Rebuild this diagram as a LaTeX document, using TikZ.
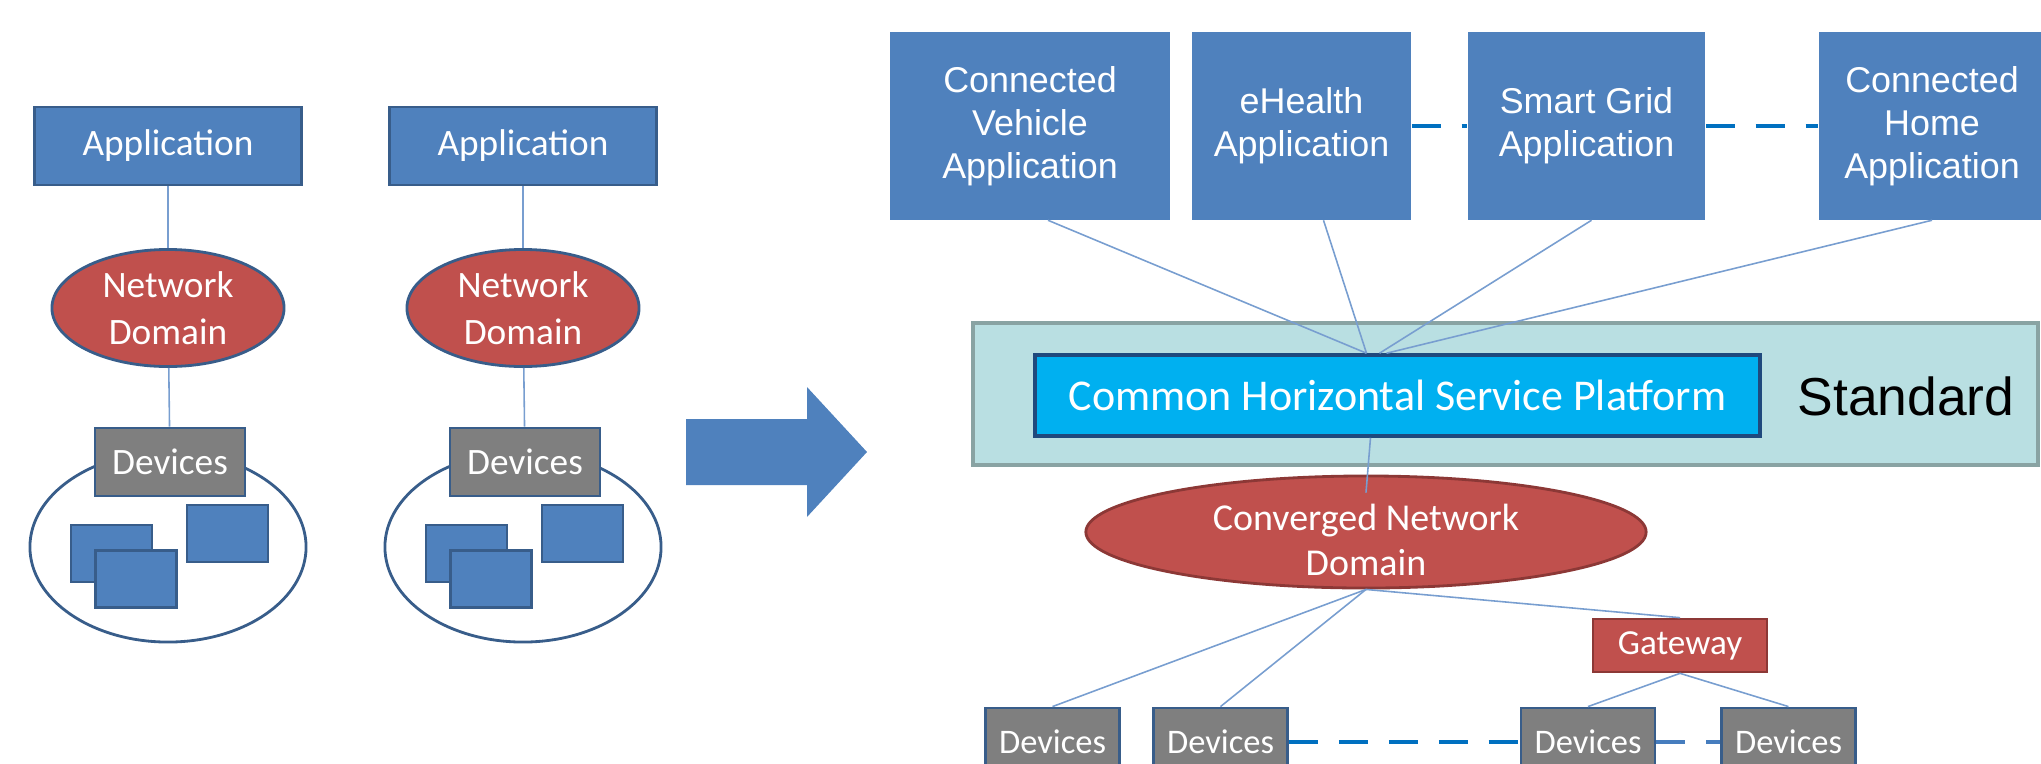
\documentclass[tikz,border=0pt]{standalone}
\usepackage{fontspec}
\setmainfont{Carlito}
\newfontfamily\arialfont{Liberation Sans}
\usetikzlibrary{shapes.geometric,calc}

\definecolor{appblue}{RGB}{79,129,189}
\definecolor{edgeblue}{RGB}{56,93,138}
\definecolor{netred}{RGB}{192,80,77}
\definecolor{netedge}{RGB}{140,56,54}
\definecolor{devgray}{RGB}{127,127,127}
\definecolor{stdfill}{RGB}{185,223,226}
\definecolor{stdedge}{RGB}{137,163,163}
\definecolor{platblue}{RGB}{0,176,240}
\definecolor{platedge}{RGB}{31,73,125}
\definecolor{linkblue}{RGB}{120,158,208}
\definecolor{dashblue}{RGB}{0,112,192}
\definecolor{dashblue2}{RGB}{70,125,190}

\begin{document}
\begin{tikzpicture}[x=0.01cm, y=-0.01cm,
					every node/.style={inner sep=0pt, align=center},
					appbox/.style={rectangle, fill=appblue, draw=edgeblue, line width=0.75pt, text=white, minimum width=2.67cm, minimum height=0.78cm, font=\fontsize{10.6}{13.4}\selectfont},
					bigapp/.style={rectangle, fill=appblue, text=white, minimum height=1.87cm, font=\arialfont\fontsize{10.2}{12.2}\selectfont},
					netdom/.style={ellipse, fill=netred, draw=edgeblue, line width=0.8pt, minimum width=2.32cm, minimum height=1.17cm},
					devbox/.style={rectangle, fill=devgray, draw=edgeblue, line width=0.8pt, text=white, minimum width=1.50cm, minimum height=0.68cm, font=\fontsize{10.6}{13.4}\selectfont},
					lowdev/.style={devbox, minimum width=1.34cm, font=\fontsize{9.8}{12}\selectfont},
					devcloud/.style={ellipse, draw=edgeblue, line width=0.8pt, fill=white, minimum width=2.76cm, minimum height=1.90cm},
					thing/.style={rectangle, fill=appblue, draw=edgeblue, line width=0.6pt, minimum width=0.81cm, minimum height=0.57cm},
					lbl/.style={text=white, font=\fontsize{10.6}{13.4}\selectfont},
					link/.style={draw=linkblue, line width=0.45pt},
					dashlink/.style={draw=dashblue, line width=1.4pt, dash pattern=on 8.2pt off 6pt}]
	\useasboundingbox (0,0) rectangle (2041,763);
	\clip (0,0) rectangle (2041,763);

	% separate silos
	\node[appbox] (app1) at (168,146) {Application};
	\node[netdom] (net1) at (168,308) {};
	\node[lbl] (net1txt) at (net1) {Network\\Domain};
	\node[devcloud] (cloud1) at (168,547) {};
	\node[devbox] (dev1) at (170,462) {Devices};
	\node[thing] (thing1a) at (111.5,553.5) {};
	\node[thing] (thing1b) at (136,579) {};
	\node[thing] (thing1c) at (227.5,533.5) {};
	\draw[link] (app1) -- (net1);
	\draw[link] (net1) -- (dev1);

	\node[appbox] (app2) at (523,146) {Application};
	\node[netdom] (net2) at (523,308) {};
	\node[lbl] (net2txt) at (net2) {Network\\Domain};
	\node[devcloud] (cloud2) at (523,547) {};
	\node[devbox] (dev2) at (525,462) {Devices};
	\node[thing] (thing2a) at (466.5,553.5) {};
	\node[thing] (thing2b) at (491,579) {};
	\node[thing] (thing2c) at (582.5,533.5) {};
	\draw[link] (app2) -- (net2);
	\draw[link] (net2) -- (dev2);

	% big arrow
	\fill[appblue] (686,419) -- (807,419) -- (807,387) -- (867,452) -- (807,517) -- (807,485) -- (686,485) -- cycle;

	% horizontal platform
	\node[bigapp, minimum width=2.80cm] (vehicle) at (1030,126) {Connected\\Vehicle\\Application};
	\node[bigapp, minimum width=2.19cm] (health) at (1301.5,126) {eHealth\\Application};
	\node[bigapp, minimum width=2.37cm] (grid) at (1586.5,126) {Smart Grid\\Application};
	\node[bigapp, minimum width=2.26cm] (home) at (1932,126) {Connected\\Home\\Application};
	\draw[dashlink] (health.east) -- (grid.west);
	\draw[dashlink] (grid.east) -- (home.west);

	\node[rectangle, fill=stdfill, draw=stdedge, line width=1pt, minimum width=10.64cm, minimum height=1.42cm] (stdbox) at (1505.5,394) {};
	\node[font=\arialfont\fontsize{15.2}{18}\selectfont] (stdtxt) at (1906,396) {Standard};
	\node[rectangle, fill=platblue, draw=platedge, line width=1pt, text=white, minimum width=7.25cm, minimum height=0.81cm, font=\fontsize{12.5}{15}\selectfont] (platform) at (1397.5,395.5) {Common Horizontal Service Platform};

	\draw[link] ($(vehicle.south)+(18,0)$) -- ($(platform.north)+(-31,0)$);
	\draw[link] ($(health.south)+(22,0)$) -- ($(platform.north)+(-31,0)$);
	\draw[link] ($(grid.south)+(5,0)$) -- ($(platform.north)+(-18,0)$);
	\draw[link] (home.south) -- ($(platform.north)+(-11,0)$);

	\node[netdom, draw=netedge, minimum width=5.60cm, minimum height=1.12cm] (conv) at (1366,532) {};
	\node[lbl, font=\fontsize{10.8}{12.9}\selectfont] (convtxt) at (1366,540) {Converged Network\\Domain};
	\draw[link] ($(platform.south)+(-27,0)$) -- ($(conv.north)+(0,18)$);

	\node[rectangle, fill=netred, draw=netedge, line width=0.75pt, text=white, minimum width=1.74cm, minimum height=0.53cm, font=\fontsize{10}{12}\selectfont] (gateway) at (1680,645.5) {Gateway};

	\node[lowdev] (devA) at (1052.5,742) {Devices};
	\node[lowdev] (devB) at (1220.5,742) {Devices};
	\node[lowdev] (devC) at (1588,742) {Devices};
	\node[lowdev] (devD) at (1788.5,742) {Devices};

	\draw[link] (conv.south) -- (devA.north);
	\draw[link] (conv.south) -- (devB.north);
	\draw[link] (conv.south) -- (gateway.north);
	\draw[link] (gateway.south) -- (devC.north);
	\draw[link] (gateway.south) -- (devD.north);
	\draw[dashlink] (devB.east) -- (devC.west);
	\draw[dashlink, draw=dashblue2] (devC.east) -- (devD.west);
\end{tikzpicture}
\end{document}
